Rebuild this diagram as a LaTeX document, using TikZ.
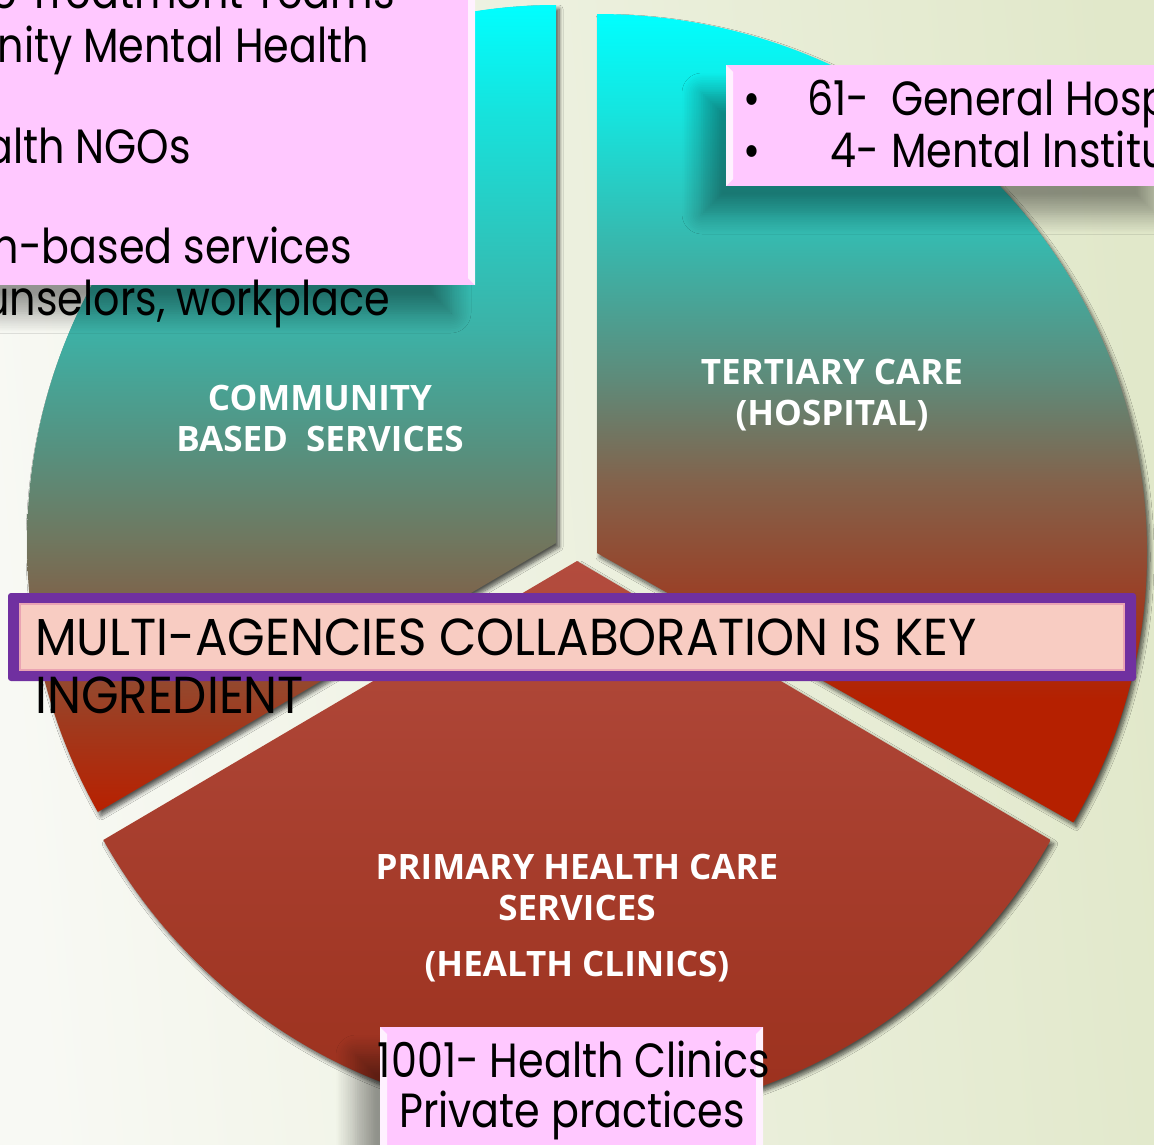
\documentclass[tikz,border=0pt]{standalone}
\usepackage{fontspec}
\setmainfont[FakeStretch=0.86]{Poppins}
\newfontfamily\condfont[FakeStretch=0.93]{Poppins}
\newfontfamily\lblfont{Open Sans}
\usetikzlibrary{shadows.blur}

\definecolor{bgL}{HTML}{F8F9F4}
\definecolor{bgR}{HTML}{E1E8CA}
\definecolor{pinkbox}{HTML}{FFC8FF}
\definecolor{purp}{HTML}{7030A0}
\definecolor{salmon}{HTML}{F8CCC2}
\definecolor{salmonline}{HTML}{E9A3B3}
\definecolor{botTop}{HTML}{B34C3E}
\definecolor{botBot}{HTML}{982C18}

\definecolor{lA}{HTML}{B82000}
\definecolor{lB}{HTML}{A03A1E}
\definecolor{lC}{HTML}{86583F}
\definecolor{lD}{HTML}{6F7860}
\definecolor{lE}{HTML}{56917F}
\definecolor{lF}{HTML}{3CB2A7}
\definecolor{lG}{HTML}{16E3DD}
\definecolor{cy}{HTML}{00FFFF}

\definecolor{rA}{HTML}{B52000}
\definecolor{rB}{HTML}{9A4026}
\definecolor{rC}{HTML}{83624B}
\definecolor{rD}{HTML}{5E8B7A}
\definecolor{rE}{HTML}{3BB3A8}
\definecolor{rF}{HTML}{15E5DF}

\pgfdeclareverticalshading{leftslice}{100bp}{color(0bp)=(lA); color(25bp)=(lA); color(30.5bp)=(lB); color(36bp)=(lC); color(42bp)=(lD); color(47.5bp)=(lE); color(55bp)=(lF); color(68.5bp)=(lG); color(75bp)=(cy); color(100bp)=(cy)}
\pgfdeclareverticalshading{rightslice}{100bp}{color(0bp)=(rA); color(32.5bp)=(rA); color(39bp)=(rB); color(46bp)=(rC); color(52.5bp)=(rD); color(60bp)=(rE); color(69bp)=(rF); color(75bp)=(cy); color(100bp)=(cy)}

\begin{document}
\begin{tikzpicture}[x=1pt,y=-1pt,
  sliceshadow/.style={blur shadow={shadow xshift=3pt, shadow yshift=-4pt, shadow blur radius=4pt, shadow blur steps=8, shadow opacity=65}},
  boxshadow/.style={blur shadow={shadow xshift=-24pt, shadow yshift=-28pt, shadow blur radius=20pt, shadow blur steps=12, shadow opacity=40}},
  bodytxt/.style={font=\fontsize{48}{50}\selectfont, text=black, inner sep=0pt},
  condtxt/.style={font=\condfont\fontsize{52}{54}\selectfont, text=black, inner sep=0pt},
  lbl/.style={font=\lblfont\bfseries\fontsize{35}{37}\selectfont, text=white, inner sep=0pt},
  bevel/.style={fill=white, opacity=0.75}]

\path[use as bounding box] (0,0) rectangle (1154,1144);
\clip (0,0) rectangle (1154,1144);
\shade[left color=bgL, right color=bgR, shading angle=95] (0,0) rectangle (1154,1144);

% slices
\path[shade, shading=leftslice, sliceshadow] (556,543) -- (556,5)
  arc[start angle=-90, end angle=-210, x radius=529, y radius=538] -- cycle;
\path[shade, shading=rightslice, sliceshadow] (597,553) -- (597,14)
  arc[start angle=-90, end angle=30, x radius=550, y radius=539] -- cycle;
\path[shade, top color=botTop, bottom color=botBot, sliceshadow] (577,561) -- ++(150:547 and 558)
  arc[start angle=150, end angle=30, x radius=547, y radius=558] -- cycle;

% slice labels
\node[lbl, anchor=base] (comm1) at (320,410) {COMMUNITY};
\node[lbl, anchor=base] (comm2) at (320,451) {BASED\ \ SERVICES};
\node[lbl, anchor=base] (tert1) at (832,384) {TERTIARY CARE};
\node[lbl, anchor=base] (tert2) at (832,425) {(HOSPITAL)};
\node[lbl, anchor=base] (prim1) at (577,879) {PRIMARY HEALTH CARE};
\node[lbl, anchor=base] (prim2) at (577,920) {SERVICES};
\node[lbl, anchor=base] (prim3) at (577,976) {(HEALTH CLINICS)};

% purple banner
\fill[purp, rounded corners=3pt] (8,593) rectangle (1136,681);
\fill[salmon, draw=salmonline, line width=1.5pt] (20,604) rectangle (1124,670);
\node[condtxt, anchor=base west] (multi1) at (35,655) {MULTI-AGENCIES COLLABORATION IS KEY};
\node[condtxt, anchor=base west] (multi2) at (35,713) {INGREDIENT};

% top-left pink box
\fill[pinkbox, boxshadow] (-20,-20) rectangle (475,285);
\fill[bevel] (475,-20) -- (468,-20) -- (468,278) -- (475,285) -- cycle;
\node[bodytxt, anchor=base east] (tl1) at (395,8) {le Treatment Teams};
\node[bodytxt, anchor=base east] (tl2) at (369,62) {nity Mental Health};
\node[bodytxt, anchor=base east] (tl3) at (191,163) {alth NGOs};
\node[bodytxt, anchor=base east] (tl4) at (352,263) {on-based services};
\node[bodytxt, anchor=base east] (tl5) at (390,315) {unselors, workplace};

% top-right pink box
\fill[pinkbox, boxshadow] (726,65) rectangle (1180,186);
\fill[bevel] (726,65) -- (733,72) -- (733,179) -- (726,186) -- cycle;
\node[bodytxt, anchor=base] (bul1) at (752,115) {\textbullet};
\node[bodytxt, anchor=base] (bul2) at (752,167) {\textbullet};
\node[bodytxt, anchor=base west] (tr1a) at (807,115) {61-};
\node[bodytxt, anchor=base west] (tr1b) at (891,115) {General Hosp};
\node[bodytxt, anchor=base west] (tr2a) at (830,167) {4-};
\node[bodytxt, anchor=base west] (tr2b) at (891,167) {Mental Institu};

% bottom pink box
\fill[pinkbox, boxshadow] (380,1027) rectangle (763,1170);
\fill[bevel] (380,1027) -- (387,1034) -- (387,1170) -- (380,1170) -- cycle;
\fill[bevel] (763,1027) -- (756,1034) -- (756,1170) -- (763,1170) -- cycle;
\node[bodytxt, anchor=base] (bt1) at (574,1077) {1001- Health Clinics};
\node[bodytxt, anchor=base] (bt2) at (572,1127) {Private practices};
\end{tikzpicture}
\end{document}
